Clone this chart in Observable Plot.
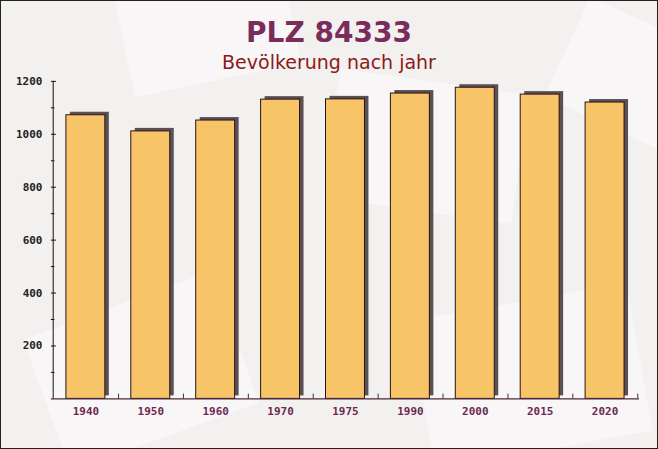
<!DOCTYPE html>
<html><head><meta charset="utf-8">
<script src="https://cdn.jsdelivr.net/npm/d3@7"></script>
<script src="https://cdn.jsdelivr.net/npm/@observablehq/plot@0.6"></script>
<style>
body{margin:0;}
#frame{position:relative;width:658px;height:449px;box-sizing:border-box;border:1px solid #222;background:#f3f0f0;overflow:hidden;font-family:"DejaVu Sans",sans-serif;}
.env{position:absolute;background:#faf8f8;opacity:0.75;}
#title{position:absolute;left:0;right:0;top:15px;text-align:center;font-weight:bold;font-size:28px;color:#7b2c5b;}
#subtitle{position:absolute;left:0;right:0;top:50px;text-align:center;font-size:19px;color:#8b1a1a;}
#chart{position:absolute;left:-1px;top:-1px;}
</style></head><body>
<div id="frame">
<div class="env" style="left:120px;top:-40px;width:170px;height:120px;transform:rotate(-12deg)"></div>
<div class="env" style="left:330px;top:80px;width:190px;height:130px;transform:rotate(8deg)"></div>
<div class="env" style="left:40px;top:300px;width:200px;height:140px;transform:rotate(-20deg)"></div>
<div class="env" style="left:420px;top:300px;width:220px;height:150px;transform:rotate(-10deg)"></div>
<div class="env" style="left:560px;top:20px;width:140px;height:110px;transform:rotate(25deg)"></div>
<div id="chart"></div><div id="title">PLZ 84333</div><div id="subtitle">Bevölkerung nach jahr</div></div>
<script>
const years = ["1940","1950","1960","1970","1975","1990","2000","2015","2020"];
const population = [1072,1011,1052,1131,1132,1154,1176,1150,1120];
const yMajorTicks = [200,400,600,800,1000,1200];
const yMinorTicks = [100,300,500,700,900,1100];

const data = years.map((y,i)=>({year:y, value:population[i]}));
const W = 658, H = 449, mL = 51, mR = 18, mT = 81, mB = 50;
const frameW = W - mL - mR;
const step = frameW / years.length;

const plot = Plot.plot({
  width: W, height: H, marginTop: mT, marginBottom: mB, marginLeft: mL, marginRight: mR,
  style: {background: "transparent", fontFamily: "'DejaVu Sans Mono', monospace", fontWeight: "bold", fontSize: "11px", color: "#222"},
  x: {domain: years, paddingInner: 0.4, paddingOuter: 0.2, label: null, axis: null},
  y: {domain: [0, 1200], label: null, axis: null},
  marks: [
    Plot.barY(data, {x: "year", y: "value", fill: "#5a5055", dx: 4, dy: -3}),
    Plot.barY(data, {x: "year", y: "value", fill: "#f8c468", stroke: "#2a1414", strokeWidth: 1}),
    Plot.ruleX(years, {x: d => d, y1: 0, y2: 18, dx: step / 2, stroke: "#4a2a3e"}),
    Plot.ruleY([0], {stroke: "#4a2a3e", strokeWidth: 1.2}),
    Plot.ruleX([years[0]], {x: d => d, y1: 0, y2: 1200, dx: -step / 2, stroke: "#111"}),
    Plot.tickY(yMajorTicks, {y: d => d, insetRight: frameW - 5, stroke: "#111"}),
    Plot.tickY(yMinorTicks, {y: d => d, insetRight: frameW - 3.5, stroke: "#111"}),
    Plot.axisY({ticks: yMajorTicks, tickSize: 0, tickPadding: 9, tickFormat: d => String(d), fill: "#222"}),
    Plot.axisX({tickSize: 0, tickPadding: 8, fill: "#6b2a52"})
  ]
});
document.getElementById("chart").appendChild(plot);
</script>
</body></html>
